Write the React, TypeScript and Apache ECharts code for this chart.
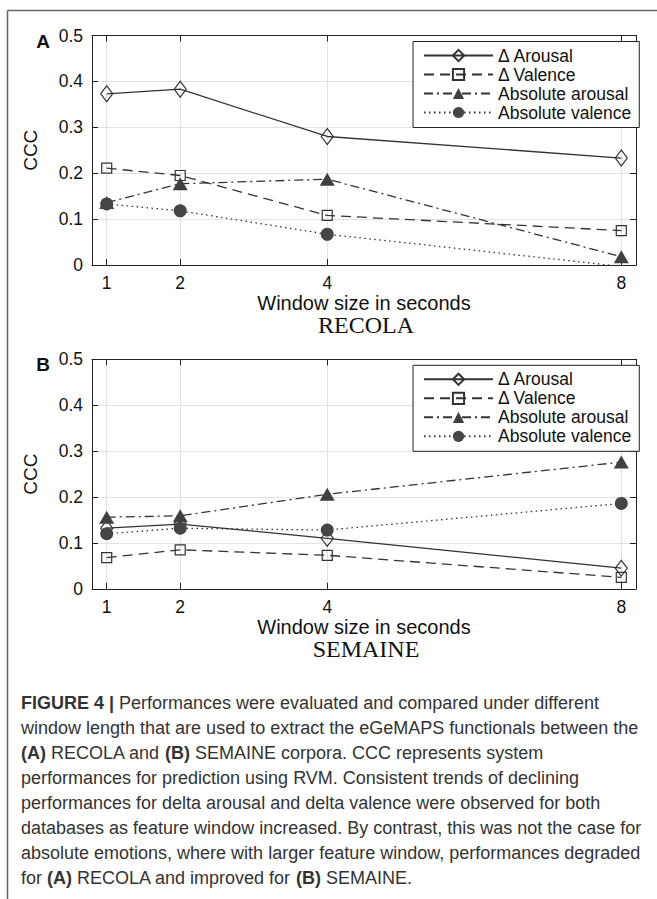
import { useEffect, useRef } from "react";
import * as echarts from "echarts";

// ---- data ----
const windowSizes = [1, 2, 4, 8];
const xTickValues = [1, 2, 4, 8];
const seriesNames = ["Δ Arousal", "Δ Valence", "Absolute arousal", "Absolute valence"];

const recolaDeltaArousal = [0.373, 0.383, 0.28, 0.233];
const recolaDeltaValence = [0.211, 0.195, 0.108, 0.075];
const recolaAbsArousal = [0.136, 0.177, 0.187, 0.018];
const recolaAbsValence = [0.133, 0.118, 0.067, -0.003];

const semaineDeltaArousal = [0.132, 0.141, 0.11, 0.045];
const semaineDeltaValence = [0.068, 0.085, 0.073, 0.025];
const semaineAbsArousal = [0.156, 0.159, 0.206, 0.276];
const semaineAbsValence = [0.12, 0.132, 0.128, 0.186];

const panelTitles = ["RECOLA", "SEMAINE"];
const panelLetters = ["A", "B"];
const xAxisTitle = "Window size in seconds";
const yAxisTitle = "CCC";

const captionLines = [
  "{b|FIGURE 4 |} Performances were evaluated and compared under different",
  "window length that are used to extract the eGeMAPS functionals between the",
  "{b|(A)} RECOLA and {b|(B)} SEMAINE corpora. CCC represents system",
  "performances for prediction using RVM. Consistent trends of declining",
  "performances for delta arousal and delta valence were observed for both",
  "databases as feature window increased. By contrast, this was not the case for",
  "absolute emotions, where with larger feature window, performances degraded",
  "for {b|(A)} RECOLA and improved for {b|(B)} SEMAINE.",
];

const SANS = "'Liberation Sans', Arial, Helvetica, sans-serif";
const SERIF = "'Liberation Serif', 'Times New Roman', serif";

const GRID_LEFT = 92;
const GRID_WIDTH = 544;
const GRID_TOPS = [35.5, 359.3];
const GRID_HEIGHT = 229.5;

const seriesStyles = [
  {
    symbol: "diamond",
    symbolSize: [12, 16],
    lineType: "solid",
    fill: "rgba(255,255,255,0)",
  },
  {
    symbol: "rect",
    symbolSize: 10,
    lineType: [10, 6],
    fill: "rgba(255,255,255,0)",
  },
  {
    symbol: "triangle",
    symbolSize: [15, 13],
    lineType: [9, 4, 2, 4],
    fill: "#404040",
  },
  {
    symbol: "circle",
    symbolSize: 13,
    lineType: [1.5, 3.5],
    fill: "#454545",
  },
];

function buildSeries(values: number[][], axisIndex: number) {
  return values.map((vals, i) => {
    const st = seriesStyles[i];
    return {
      name: seriesNames[i],
      type: "line",
      xAxisIndex: axisIndex,
      yAxisIndex: axisIndex,
      data: windowSizes.map((x, j) => [x, vals[j]]),
      symbol: st.symbol,
      symbolSize: st.symbolSize,
      showAllSymbol: true,
      clip: true,
      lineStyle: { color: "#333", width: 1.3, type: st.lineType },
      itemStyle: {
        color: st.fill,
        borderColor: "#333",
        borderWidth: st.fill.startsWith("rgba") ? 1.2 : 0,
      },
      emphasis: { disabled: true },
      z: 3 + i,
    };
  });
}

function buildXAxes(gi: number) {
  const common = {
    type: "value",
    gridIndex: gi,
    min: 0.8,
    max: 8.2,
    axisLine: { show: true, onZero: false, lineStyle: { color: "#222", width: 1 } },
    axisTick: {
      show: true,
      inside: true,
      length: 6,
      customValues: xTickValues,
      lineStyle: { color: "#222" },
    },
  };
  return [
    {
      ...common,
      position: "bottom",
      axisLabel: {
        show: true,
        customValues: xTickValues,
        fontSize: 17.5,
        color: "#111",
        fontFamily: SANS,
        margin: 9,
      },
      splitLine: { show: true, lineStyle: { color: "#e2e2e2", width: 1 } },
      name: xAxisTitle,
      nameLocation: "middle",
      nameGap: 16,
      nameTextStyle: { fontSize: 20, color: "#111", fontFamily: SANS },
    },
    {
      ...common,
      position: "top",
      axisLabel: { show: false },
      splitLine: { show: false },
    },
  ];
}

function buildYAxes(gi: number) {
  const common = {
    type: "value",
    gridIndex: gi,
    min: 0,
    max: 0.5,
    interval: 0.1,
    axisLine: { show: true, onZero: false, lineStyle: { color: "#222", width: 1 } },
    axisTick: { show: true, inside: true, length: 6, lineStyle: { color: "#222" } },
  };
  return [
    {
      ...common,
      position: "left",
      axisLabel: {
        show: true,
        fontSize: 17.5,
        color: "#111",
        fontFamily: SANS,
        margin: 9,
      },
      splitLine: { show: true, lineStyle: { color: "#e2e2e2", width: 1 } },
      name: yAxisTitle,
      nameLocation: "middle",
      nameRotate: 90,
      nameGap: 52,
      nameTextStyle: { fontSize: 19, color: "#111", fontFamily: SANS },
    },
    {
      ...common,
      position: "right",
      axisLabel: { show: false },
      splitLine: { show: false },
    },
  ];
}

function buildLegend(gi: number) {
  return {
    left: 413,
    top: GRID_TOPS[gi] + 6,
    orient: "vertical",
    itemWidth: 69,
    itemHeight: 14,
    itemGap: 1,
    padding: [5, 8, 6, 10],
    backgroundColor: "#fff",
    borderColor: "#222",
    borderWidth: 1,
    borderRadius: 0,
    selectedMode: false,
    textStyle: { fontSize: 17.5, color: "#111", fontFamily: SANS, lineHeight: 17 },
    data: seriesNames,
  };
}

export default function App() {
  const ref = useRef<HTMLDivElement>(null);

  useEffect(() => {
    if (!ref.current) return;
    const chart = echarts.init(ref.current, undefined, { renderer: "svg" });

    const x0 = buildXAxes(0);
    const x1 = buildXAxes(1);
    const y0 = buildYAxes(0);
    const y1 = buildYAxes(1);

    const graphics: any[] = [
      {
        type: "line",
        shape: { x1: 7.5, y1: 10.5, x2: 657, y2: 10.5 },
        style: { stroke: "#666", lineWidth: 1.5 },
        silent: true,
      },
      {
        type: "line",
        shape: { x1: 7.5, y1: 10.5, x2: 7.5, y2: 899 },
        style: { stroke: "#666", lineWidth: 1.5 },
        silent: true,
      },
    ];
    [0, 1].forEach((gi) => {
      graphics.push({
        type: "text",
        x: 43,
        y: GRID_TOPS[gi] + 5.5,
        style: {
          text: panelLetters[gi],
          font: `bold 19px ${SANS}`,
          fill: "#111",
          textAlign: "center",
          textVerticalAlign: "middle",
        },
      });
      graphics.push({
        type: "text",
        x: GRID_LEFT + GRID_WIDTH / 2 + 2,
        y: GRID_TOPS[gi] + GRID_HEIGHT + 60,
        style: {
          text: panelTitles[gi],
          font: `24px ${SERIF}`,
          fill: "#111",
          textAlign: "center",
          textVerticalAlign: "middle",
        },
      });
    });
    captionLines.forEach((line, i) => {
      graphics.push({
        type: "text",
        x: 21,
        y: 703 + 25 * i,
        style: {
          text: line,
          fontSize: 18,
          fontFamily: SANS,
          fill: "#333",
          textAlign: "left",
          textVerticalAlign: "middle",
          rich: {
            b: { fontSize: 18, fontFamily: SANS, fontWeight: "bold" },
          },
        },
      });
    });

    const option: any = {
      animation: false,
      backgroundColor: "#fff",
      grid: GRID_TOPS.map((t) => ({
        left: GRID_LEFT,
        top: t,
        width: GRID_WIDTH,
        height: GRID_HEIGHT,
        containLabel: false,
      })),
      xAxis: [...x0, ...x1],
      yAxis: [...y0, ...y1],
      legend: [buildLegend(0), buildLegend(1)],
      series: [
        ...buildSeries(
          [recolaDeltaArousal, recolaDeltaValence, recolaAbsArousal, recolaAbsValence],
          0
        ),
        ...buildSeries(
          [semaineDeltaArousal, semaineDeltaValence, semaineAbsArousal, semaineAbsValence],
          2
        ),
      ],
      graphic: graphics,
    };
    chart.setOption(option);
    return () => chart.dispose();
  }, []);

  return (
    <div
      ref={ref}
      style={{ position: "absolute", left: 0, top: 0, width: 657, height: 899 }}
    />
  );
}
